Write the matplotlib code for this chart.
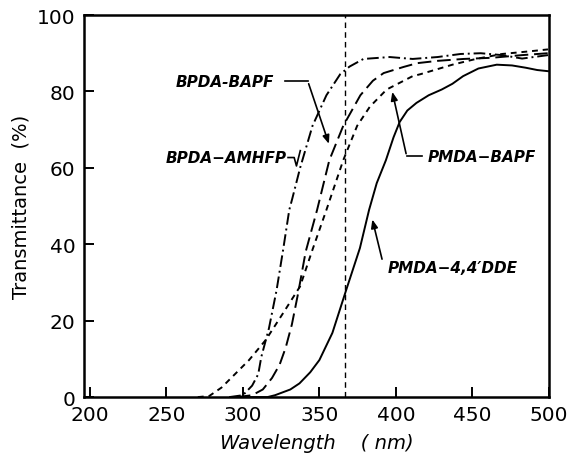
import matplotlib
matplotlib.use("Agg")
import matplotlib.pyplot as plt

# ---- data (wavelength nm, transmittance %) ----
dde_x = [300, 316, 321, 331, 337, 344, 350, 358.5, 367.5, 376.5, 382.5, 387.5, 393.5, 398.5,
         402.5, 407.5, 413.5, 421.5, 430, 437, 444, 454, 466, 476, 485, 492.5, 499.5]
dde_y = [0, 0, 0.5, 2, 3.6, 6.5, 9.7, 16.8, 28, 39, 49, 56, 62, 68,
         72, 75, 77, 79, 80.5, 82, 84, 86, 87, 86.8, 86.2, 85.6, 85.3]

amhfp_x = [291, 300, 306, 310, 312, 317, 322, 326.3, 330.3, 332.3, 337.4, 345.5, 354.6, 363.6,
           369.7, 378.8, 396, 411, 427.3, 442.3, 455.5, 469.5, 482.6, 499.5]
amhfp_y = [0, 0.5, 3, 6, 10.5, 18, 28, 38.6, 49, 52, 60, 71, 79, 84.5,
           86.5, 88.5, 89, 88.5, 89, 89.8, 90, 89.5, 88.6, 89.5]

bpda_bapf_x = [296, 306, 313, 319, 324, 328, 332, 336, 341, 348.5, 356.5, 365.6, 376.8, 385,
               392, 405, 414, 427.3, 444.3, 462.5, 482.5, 499.5]
bpda_bapf_y = [0, 0.5, 2, 5, 8.5, 13, 19, 27, 38, 49, 62, 71, 79, 82.8,
               84.8, 86.4, 87.4, 88, 88.5, 88.8, 89.5, 90]

pmda_bapf_x = [270.5, 278, 286, 291, 304, 315, 326.3, 337.4, 345.5, 354.6, 365.6, 374.7, 383,
               394, 411, 416, 437, 452.4, 469.5, 487.6, 499.5]
pmda_bapf_y = [0, 0.3, 2.5, 4.5, 9.7, 15, 22, 29, 38.6, 49, 62, 71, 76,
               80.5, 84, 84.5, 87, 88.5, 89.8, 90.5, 91]

iline_x = 367
xticks = [200, 250, 300, 350, 400, 450, 500]
yticks = [0, 20, 40, 60, 80, 100]

# ---- figure ----
fig = plt.figure(figsize=(5.71, 4.64), dpi=100)
ax = fig.add_axes([0.147, 0.142, 0.814, 0.8235])

lw = 1.4
ax.plot(dde_x, dde_y, color="black", lw=lw, linestyle="-")
ax.plot(amhfp_x, amhfp_y, color="black", lw=lw, linestyle=(0, (6, 2, 1, 2)))
ax.plot(bpda_bapf_x, bpda_bapf_y, color="black", lw=lw, linestyle=(0, (7, 3)))
ax.plot(pmda_bapf_x, pmda_bapf_y, color="black", lw=lw, linestyle=(0, (3, 2.5)))
ax.axvline(iline_x, color="black", lw=1.0, linestyle=(0, (4, 3)))

ax.set_xlim(196, 500)
ax.set_ylim(0, 100)
ax.set_xticks(xticks)
ax.set_yticks(yticks)
ax.tick_params(direction="in", length=7, width=1.4, labelsize=14.5, pad=6)
for s in ax.spines.values():
    s.set_linewidth(1.8)

ax.set_xlabel("Wavelength    ( nm)", fontsize=14, style="italic", labelpad=6)
ax.set_ylabel("Transmittance  (%)", fontsize=14, labelpad=5)

tkw = dict(fontsize=11, fontweight="bold", style="italic", color="black")
akw = dict(arrowstyle="-|>,head_length=0.5,head_width=0.2", color="black", lw=1.2)

# BPDA-BAPF
ax.text(320.5, 82.7, "BPDA-BAPF", ha="right", va="center", **tkw)
ax.plot([327.4, 342.4], [82.7, 82.7], color="black", lw=1.2)
ax.annotate("", xy=(356.8, 65.6), xytext=(342.4, 82.7), arrowprops=akw)

# BPDA-AMHFP
ax.text(328.5, 62.7, "BPDA−AMHFP", ha="right", va="center", **tkw)
ax.plot([329.5, 333.5, 335.0, 337.5], [62.7, 62.7, 60.5, 64.5], color="black", lw=1.2)

# PMDA-BAPF
ax.text(420.8, 63.0, "PMDA−BAPF", ha="left", va="center", **tkw)
ax.plot([417.0, 407.1], [63.0, 63.0], color="black", lw=1.2)
ax.annotate("", xy=(397.3, 80.6), xytext=(407.1, 63.0), arrowprops=akw)

# PMDA-4,4'DDE
ax.text(394.7, 34.0, "PMDA−4,4′DDE", ha="left", va="center", **tkw)
ax.annotate("", xy=(384.2, 47.2), xytext=(391.4, 35.4), arrowprops=akw)

fig.savefig("out.png", dpi=100)
